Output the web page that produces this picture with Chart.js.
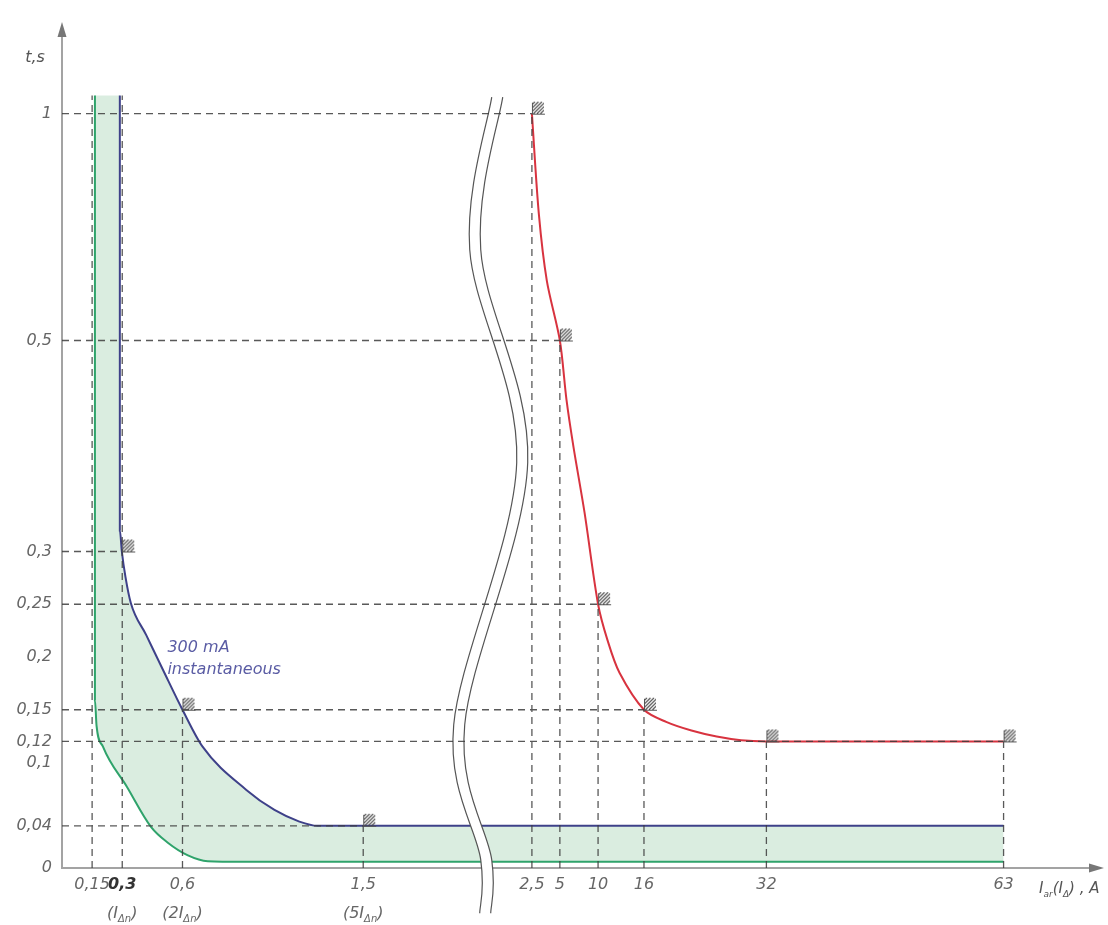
<!DOCTYPE html>
<html>
<head>
<meta charset="utf-8">
<script src="https://cdn.jsdelivr.net/npm/chart.js@4.4.1/dist/chart.umd.min.js"></script>
<style>
  html, body { margin: 0; padding: 0; background: #fff; }
  #chart { display: block; }
</style>
</head>
<body>
<canvas id="chart" width="1108" height="925"></canvas>
<script>
const FONT = '"DejaVu Sans", sans-serif';

// axis ticks (current in A, time in s)
const xTicks = [0.15, 0.3, 0.6, 1.5, 2.5, 5, 10, 16, 32, 63];
const xTickLabels = ['0,15', '0,3', '0,6', '1,5', '2,5', '5', '10', '16', '32', '63'];
const yTicks = [0, 0.04, 0.1, 0.12, 0.15, 0.2, 0.25, 0.3, 0.5, 1];
const yTickLabels = ['0', '0,04', '0,1', '0,12', '0,15', '0,2', '0,25', '0,3', '0,5', '1'];
// second line under some current ticks: (I∆n), (2I∆n), (5I∆n)
const ratedTicks = [0.3, 0.6, 1.5];
const ratedFactors = ['', '2', '5'];

// lower limit (green)
const greenI = [0.164, 0.164, 0.164, 0.172, 0.204, 0.323, 0.443, 0.527, 0.627, 0.726, 0.9, 63];
const greenT = [1.04, 0.5, 0.159, 0.135, 0.115, 0.077, 0.039, 0.024, 0.012, 0.0065, 0.006, 0.006];
// 300 mA instantaneous (blue)
const blueI = [0.288, 0.288, 0.288, 0.298, 0.316, 0.343, 0.419, 0.505, 0.6, 0.7, 0.918, 1.058, 1.182, 1.272, 1.6, 63];
const blueT = [1.04, 0.5, 0.32, 0.3, 0.276, 0.251, 0.221, 0.187, 0.15, 0.115, 0.074, 0.055, 0.044, 0.04, 0.04, 0.04];
// breaker curve (red)
const redI = [2.5, 3.12, 3.84, 5, 5.87, 6.79, 8.23, 10, 11.23, 12.8, 16, 18.9, 22.2, 25.5, 28.7, 32, 63];
const redT = [1.0, 0.779, 0.631, 0.5, 0.444, 0.399, 0.337, 0.25, 0.216, 0.185, 0.15, 0.1385, 0.1303, 0.1246, 0.1211, 0.12, 0.12];
// hatched test points
const pointI = [0.3, 0.6, 1.5, 2.5, 5, 10, 16, 32, 63];
const pointT = [0.3, 0.15, 0.04, 1, 0.5, 0.25, 0.15, 0.12, 0.12];

// current axis is broken after 1.5 A and compressed on the right side
function axisX(i) {
  if (i <= 2) return i;
  if (i <= 5) return 2.34 + (i - 2.5) * 0.0557;
  return 2.479 + (i - 5) * 0.0381;
}
// time axis is linear up to 0.5 s, compressed above
function axisY(t) {
  return t <= 0.5 ? t : 0.5 + (t - 0.5) * 0.43;
}
const pts = (xs, ys) => xs.map((x, k) => ({ x: axisX(x), y: axisY(ys[k]) }));

// dashed reference lines from each test point to both axes
const guideData = [];
function addSeg(a, b) { guideData.push(a, b, { x: b.x, y: null }); }
pointI.forEach((i, k) => {
  const t = pointT[k];
  addSeg({ x: 0, y: axisY(t) }, { x: axisX(i), y: axisY(t) });
  addSeg({ x: axisX(i), y: 0 }, { x: axisX(i), y: axisY(t) });
});
[0.15, 0.3].forEach(i => addSeg({ x: axisX(i), y: 0 }, { x: axisX(i), y: axisY(greenT[0]) }));

// fill edge = blue curve closed to the top of the green one
const edgeData = [{ x: axisX(greenI[0]), y: axisY(blueT[0]) }].concat(pts(blueI, blueT));

function hatchMark() {
  const c = document.createElement('canvas');
  c.width = 34; c.height = 34;
  const g = c.getContext('2d');
  g.save();
  g.beginPath(); g.rect(17, 5, 12, 12); g.clip();
  g.strokeStyle = '#444'; g.lineWidth = 1.1;
  g.beginPath();
  for (let k = -9; k <= 9; k += 3.5) { g.moveTo(17 + k, 17); g.lineTo(29 + k, 5); }
  g.stroke();
  g.restore();
  g.strokeStyle = '#555'; g.lineWidth = 1;
  g.beginPath(); g.moveTo(17.5, 17); g.lineTo(17.5, 6); g.moveTo(17, 17.5); g.lineTo(30, 17.5); g.stroke();
  return c;
}

function drawParts(ctx, parts, x, y, size, align) {
  const sub = Math.round(size * 0.62);
  const w = parts.reduce((s, p) => {
    ctx.font = `italic ${p[1] ? sub : size}px ${FONT}`;
    return s + ctx.measureText(p[0]).width;
  }, 0);
  let cx = align === 'center' ? x - w / 2 : x;
  ctx.textAlign = 'left';
  ctx.textBaseline = 'alphabetic';
  parts.forEach(p => {
    ctx.font = `italic ${p[1] ? sub : size}px ${FONT}`;
    ctx.fillText(p[0], cx, y + (p[1] ? 4 : 0));
    cx += ctx.measureText(p[0]).width;
  });
}

function drawBreak(chart) {
  const { ctx, chartArea: a, scales: { x } } = chart;
  const cx = x.getPixelForValue(2.11);
  const h = a.bottom - a.top;
  const wave = [[6, 0.08], [-16, 0.262], [31, 0.516], [-32, 0.829], [-5, 0.99], [-6, 1.054]]
    .map(p => ({ x: cx + p[0], y: a.top + p[1] * h }));
  const gap = 11;
  const path = (off, rev) => {
    const p = rev ? wave.slice().reverse() : wave;
    for (let i = 0; i < p.length - 1; i++) {
      const p0 = p[i - 1] || p[i], p1 = p[i], p2 = p[i + 1], p3 = p[i + 2] || p2;
      if (i === 0 && !rev) ctx.moveTo(p1.x + off, p1.y);
      if (i === 0 && rev) ctx.lineTo(p1.x + off, p1.y);
      ctx.bezierCurveTo(p1.x + off + (p2.x - p0.x) / 6, p1.y + (p2.y - p0.y) / 6,
        p2.x + off - (p3.x - p1.x) / 6, p2.y - (p3.y - p1.y) / 6, p2.x + off, p2.y);
    }
  };
  ctx.save();
  ctx.beginPath(); path(0, false); path(gap, true); ctx.closePath();
  ctx.fillStyle = '#fff'; ctx.fill();
  ctx.strokeStyle = '#555'; ctx.lineWidth = 1.2;
  ctx.beginPath(); path(0, false); ctx.stroke();
  ctx.beginPath(); path(gap, false); ctx.stroke();
  ctx.restore();
}

const GUIDES = 4;
const decor = {
  id: 'decor',
  beforeDraw(chart) {
    const { ctx } = chart;
    ctx.save(); ctx.fillStyle = '#fff'; ctx.fillRect(0, 0, chart.width, chart.height); ctx.restore();
  },
  beforeDatasetDraw(chart, args) {
    if (args.index === GUIDES) drawBreak(chart);
  },
  afterDraw(chart) {
    const { ctx, chartArea: a, scales: { x, y } } = chart;
    ctx.save();
    // axis arrows
    ctx.fillStyle = '#777';
    ctx.beginPath();
    ctx.moveTo(a.left, a.top - 8); ctx.lineTo(a.left - 4.5, a.top + 7); ctx.lineTo(a.left + 4.5, a.top + 7);
    ctx.closePath(); ctx.fill();
    ctx.beginPath();
    ctx.moveTo(a.right + 5, a.bottom); ctx.lineTo(a.right - 10, a.bottom - 4.5); ctx.lineTo(a.right - 10, a.bottom + 4.5);
    ctx.closePath(); ctx.fill();
    // axis titles
    ctx.fillStyle = '#555';
    drawParts(ctx, [['t,s', false]], a.left - 27, a.top + 32, 16, 'center');
    drawParts(ctx, [['I', false], ['ar', true], ['(I', false], ['Δ', true], [') , A', false]],
      a.right - 60, a.bottom + 25, 15, 'left');
    // rated current notes under the ticks
    ctx.fillStyle = '#666';
    ratedTicks.forEach((v, k) => {
      drawParts(ctx, [['(' + ratedFactors[k] + 'I', false], ['Δn', true], [')', false]],
        x.getPixelForValue(axisX(v)), a.bottom + 50, 16, 'center');
    });
    // curve note
    ctx.fillStyle = '#5a5ca4';
    ctx.font = `italic 16px ${FONT}`;
    ctx.textAlign = 'left'; ctx.textBaseline = 'middle';
    const lx = x.getPixelForValue(axisX(0.525));
    ctx.fillText('300 mA', lx, y.getPixelForValue(axisY(0.209)));
    ctx.fillText('instantaneous', lx, y.getPixelForValue(axisY(0.188)));
    ctx.restore();
  }
};

const monotone = { pointRadius: 0, borderWidth: 2, cubicInterpolationMode: 'monotone' };

new Chart(document.getElementById('chart'), {
  type: 'line',
  data: {
    datasets: [
      { label: 'lower', data: pts(greenI, greenT), borderColor: '#2fa36b', fill: 2,
        backgroundColor: 'rgba(118,190,140,0.27)', order: 6, ...monotone },
      { label: '300 mA instantaneous', data: pts(blueI, blueT), borderColor: '#3e4189', fill: false,
        order: 5, ...monotone },
      { label: 'edge', data: edgeData, borderColor: 'transparent', fill: false, order: 7,
        ...monotone, borderWidth: 0 },
      { label: 'breaker', data: pts(redI, redT), borderColor: '#d8333f', fill: false, order: 4,
        pointRadius: 0, borderWidth: 2, tension: 0.3 },
      { label: 'guides', data: guideData, borderColor: 'rgba(60,60,60,0.85)', borderWidth: 1.3,
        borderDash: [7, 5], pointRadius: 0, fill: false, spanGaps: false, order: 2 },
      { label: 'points', data: pts(pointI, pointT), showLine: false, pointStyle: hatchMark(),
        pointRadius: 8, order: 1 }
    ]
  },
  options: {
    responsive: false,
    animation: false,
    devicePixelRatio: 1,
    events: [],
    layout: { padding: { top: 30, right: 8, left: 0, bottom: 0 } },
    plugins: { legend: { display: false }, tooltip: { enabled: false } },
    scales: {
      x: {
        type: 'linear', min: 0, max: 5.164,
        afterBuildTicks: s => { s.ticks = xTicks.map(v => ({ value: axisX(v) })); },
        afterFit: s => { s.height = 57; },
        grid: { display: false, drawTicks: false },
        border: { color: '#a3a3a3', width: 2 },
        ticks: {
          autoSkip: false, maxRotation: 0, padding: 7,
          callback: (v, i) => xTickLabels[i],
          color: c => c.index === 1 ? '#333' : '#666',
          font: c => ({ family: FONT, size: 16, style: 'italic', weight: c.index === 1 ? 'bold' : 'normal' })
        }
      },
      y: {
        type: 'linear', min: 0, max: 0.7943,
        afterBuildTicks: s => { s.ticks = yTicks.map(v => ({ value: axisY(v) })); },
        afterFit: s => { s.width = 62; },
        grid: { display: false, drawTicks: false },
        border: { color: '#a3a3a3', width: 2 },
        ticks: {
          autoSkip: false, padding: 10,
          callback: (v, i) => yTickLabels[i],
          color: '#666',
          font: { family: FONT, size: 16, style: 'italic' }
        }
      }
    }
  },
  plugins: [decor]
});
</script>
</body>
</html>
